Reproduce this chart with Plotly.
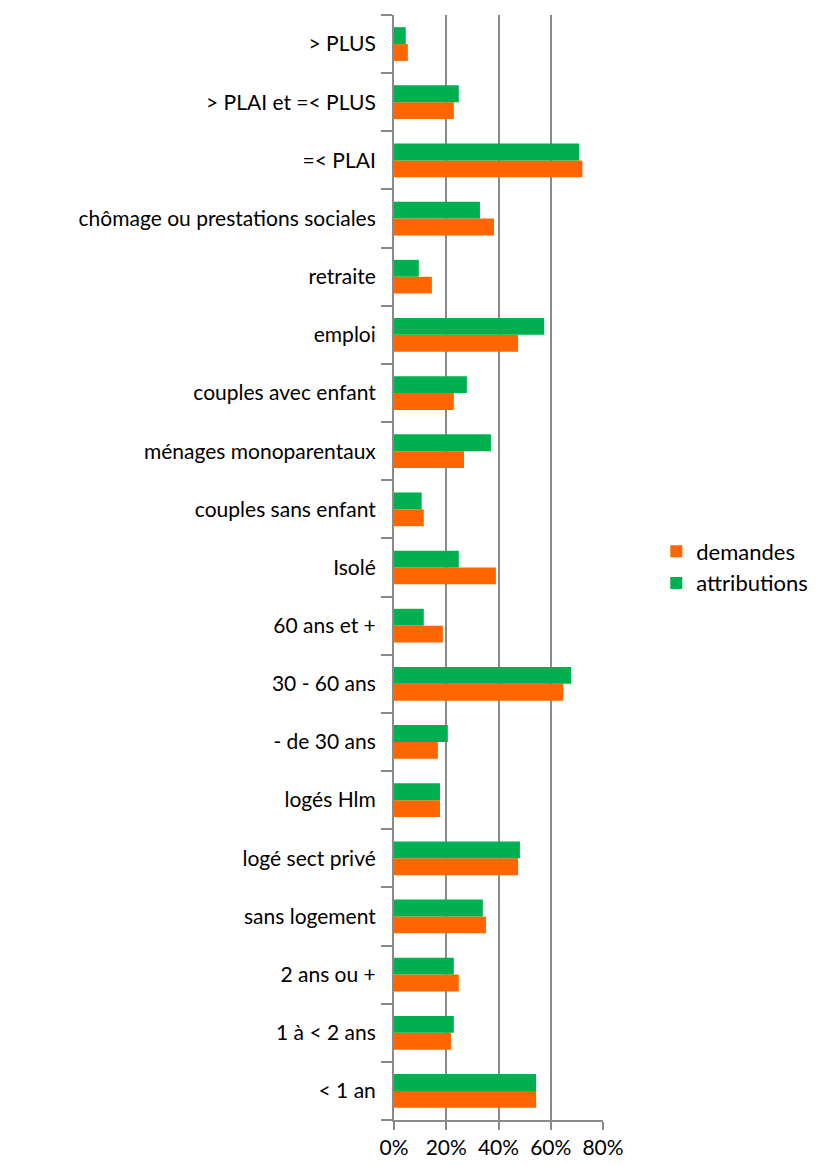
import plotly.graph_objects as go

categories = [
    "< 1 an", "1 à < 2 ans", "2 ans ou +", "sans logement", "logé sect privé",
    "logés Hlm", "- de 30 ans", "30 - 60 ans", "60 ans et +", "Isolé",
    "couples sans enfant", "ménages monoparentaux", "couples avec enfant",
    "emploi", "retraite", "chômage ou prestations sociales", "=< PLAI",
    "> PLAI et =< PLUS", "> PLUS",
]
demandes = [54.4, 21.8, 24.8, 35.2, 47.5, 17.6, 16.8, 64.8, 18.7, 39.0,
            11.4, 26.8, 22.9, 47.5, 14.5, 38.3, 72.1, 22.9, 5.3]
attributions = [54.4, 22.9, 22.9, 34.0, 48.2, 17.6, 20.6, 67.8, 11.4, 24.8,
                10.6, 37.1, 27.9, 57.5, 9.5, 32.9, 70.9, 24.8, 4.5]
x_ticks = [0, 20, 40, 60, 80]
x_tick_labels = ["0%", "20%", "40%", "60%", "80%"]

FONT = "Lato"

fig = go.Figure()
fig.add_trace(go.Bar(y=categories, x=demandes, name="demandes", orientation="h",
                     legendgroup="d",
                     marker=dict(color="#FF6600", line=dict(width=0))))
fig.add_trace(go.Bar(y=categories, x=attributions, name="attributions", orientation="h",
                     legendgroup="a",
                     marker=dict(color="#00B050", line=dict(width=0))))

fig.update_layout(
    width=819, height=1157,
    margin=dict(l=386, r=224, t=7, b=45),
    paper_bgcolor="white", plot_bgcolor="white",
    barmode="group", bargap=0.42, bargroupgap=0,
    font=dict(family=FONT, size=21, color="#000000"),
    legend=dict(x=1.255, y=0.5, xanchor="left", yanchor="middle",
                traceorder="normal", font=dict(size=22), itemwidth=30,
                tracegroupgap=20),
    showlegend=True,
)
fig.update_xaxes(
    range=[0, 80], tickvals=x_ticks, ticktext=x_tick_labels,
    showgrid=True, gridcolor="#8A8A8A", gridwidth=2,
    showline=True, linecolor="#8A8A8A", linewidth=2,
    ticks="outside", ticklen=8, tickwidth=2, tickcolor="#8A8A8A",
    zeroline=False, tickfont=dict(size=21),
)
fig.update_yaxes(
    categoryorder="array", categoryarray=categories,
    showline=True, linecolor="#8A8A8A", linewidth=2,
    ticks="outside", ticklen=11, tickwidth=2, tickcolor="#8A8A8A",
    tickson="boundaries", showgrid=False, ticklabelstandoff=12,
)

fig.write_html("out.html")
